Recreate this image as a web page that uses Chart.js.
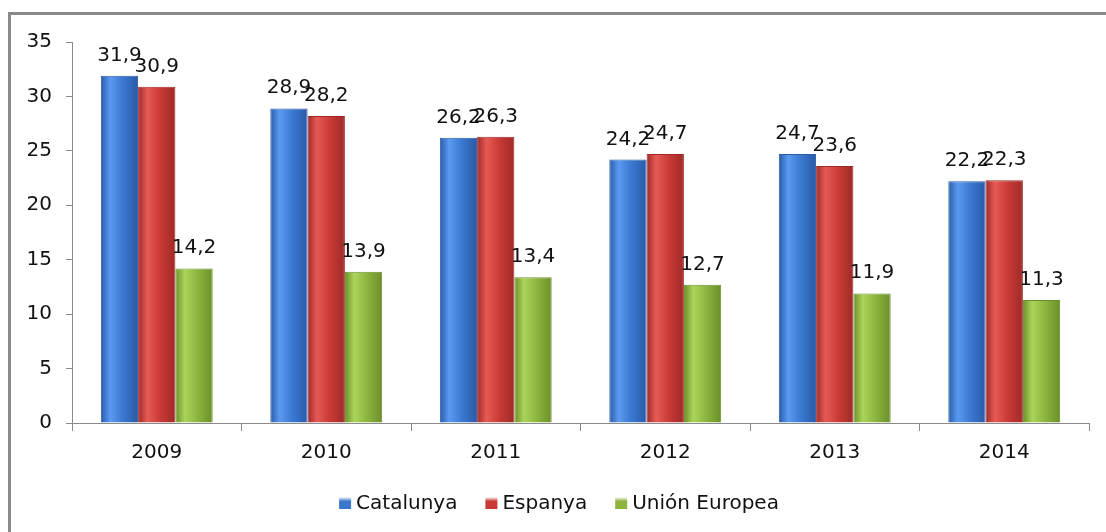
<!DOCTYPE html>
<html>
<head>
<meta charset="utf-8">
<script src="https://cdn.jsdelivr.net/npm/chart.js@4"></script>
<style>
  html, body { margin: 0; padding: 0; background: #fff; overflow: hidden; }
  #wrap { position: relative; width: 1106px; height: 532px; overflow: hidden; }
  #frame { position: absolute; left: 8px; top: 12px; width: 1200px; height: 600px;
           border-left: 3px solid #8a8a8a; border-top: 3px solid #8a8a8a; }
  canvas { position: absolute; left: 0; top: 0; }
</style>
</head>
<body>
<div id="wrap">
  <div id="frame"></div>
  <canvas id="chart" width="1106" height="532"></canvas>
</div>
<script>
// Years and values
const years = ['2009', '2010', '2011', '2012', '2013', '2014'];
const catalunya = [31.9, 28.9, 26.2, 24.2, 24.7, 22.2];
const espanya = [30.9, 28.2, 26.3, 24.7, 23.6, 22.3];
const unionEuropea = [14.2, 13.9, 13.4, 12.7, 11.9, 11.3];
const yTicks = [0, 5, 10, 15, 20, 25, 30, 35];

const CAT_PCT = 0.66;
const FONT = 'Verdana, "DejaVu Sans", sans-serif';
const legendColors = ['#3a78d0', '#c93a36', '#8db43e'];

// horizontal shading so bars look a bit rounded
function barFill(dark, mid, light) {
    return function (c) {
        const chart = c.chart;
        const xs = chart.scales.x;
        if (!xs || !chart.chartArea) return mid;
        const catW = xs.width / years.length;
        const barW = catW * CAT_PCT / 3;
        const cx = xs.getPixelForValue(c.dataIndex) + (c.datasetIndex - 1) * barW;
        const g = chart.ctx.createLinearGradient(cx - barW / 2, 0, cx + barW / 2, 0);
        g.addColorStop(0, dark);
        g.addColorStop(0.25, light);
        g.addColorStop(0.6, mid);
        g.addColorStop(1, dark);
        return g;
    };
}

// value labels over each bar, comma decimal
const valueLabels = {
    id: 'valueLabels',
    afterDatasetsDraw(chart) {
        const ctx = chart.ctx;
        ctx.save();
        ctx.font = '20px ' + FONT;
        ctx.fillStyle = '#111';
        ctx.textAlign = 'center';
        ctx.textBaseline = 'alphabetic';
        chart.data.datasets.forEach((ds, i) => {
            chart.getDatasetMeta(i).data.forEach((bar, j) => {
                const txt = ds.data[j].toFixed(1).replace('.', ',');
                ctx.fillText(txt, bar.x, bar.y - 15);
            });
        });
        ctx.restore();
    }
};

// legend drawn by hand: the built-in one can't space items this wide
const bottomLegend = {
    id: 'bottomLegend',
    afterDraw(chart) {
        const ctx = chart.ctx;
        ctx.save();
        ctx.font = '20px ' + FONT;
        ctx.textBaseline = 'middle';
        const box = 12, gap = 5, spacing = 28;
        const names = chart.data.datasets.map(d => d.label);
        const widths = names.map(n => box + gap + ctx.measureText(n).width);
        const total = widths.reduce((a, b) => a + b, 0) + spacing * (names.length - 1);
        let x = chart.width / 2 + 6 - total / 2;
        const y = 503;
        names.forEach((n, i) => {
            const g = ctx.createLinearGradient(x, y - box / 2, x, y + box / 2);
            g.addColorStop(0, '#ffffff');
            g.addColorStop(0.35, legendColors[i]);
            g.addColorStop(1, legendColors[i]);
            ctx.fillStyle = g;
            ctx.fillRect(x, y - box / 2, box, box);
            ctx.fillStyle = '#111';
            ctx.fillText(n, x + box + gap, y + 1);
            x += widths[i] + spacing;
        });
        ctx.restore();
    }
};

const ctx = document.getElementById('chart').getContext('2d');
new Chart(ctx, {
    type: 'bar',
    data: {
        labels: years,
        datasets: [{
            label: 'Catalunya',
            data: catalunya,
            backgroundColor: barFill('#2a5aa8', '#3a78d0', '#5a9af0'),
            borderColor: '#2a5aa8',
            borderWidth: 1
        }, {
            label: 'Espanya',
            data: espanya,
            backgroundColor: barFill('#9e2a27', '#c93a36', '#e65a55'),
            borderColor: '#9e2a27',
            borderWidth: 1
        }, {
            label: 'Unión Europea',
            data: unionEuropea,
            backgroundColor: barFill('#6a8f2a', '#8db43e', '#acd35a'),
            borderColor: '#6a8f2a',
            borderWidth: 1
        }]
    },
    options: {
        responsive: false,
        animation: false,
        layout: { padding: { top: 42, left: 0, right: 17, bottom: 49 } },
        datasets: {
            bar: { categoryPercentage: CAT_PCT, barPercentage: 1 }
        },
        plugins: {
            legend: { display: false },
            tooltip: { enabled: false }
        },
        scales: {
            x: {
                grid: { drawOnChartArea: false, drawTicks: true, tickLength: 8, color: '#8a8a8a', offset: true },
                border: { display: true, color: '#8a8a8a' },
                ticks: { font: { family: FONT, size: 20 }, color: '#111', padding: 10 },
                afterFit(scale) { scale.height = 60; }
            },
            y: {
                min: 0,
                max: 35,
                afterBuildTicks(scale) { scale.ticks = yTicks.map(v => ({ value: v })); },
                grid: { drawOnChartArea: false, drawTicks: true, tickLength: 6, color: '#8a8a8a' },
                border: { display: true, color: '#8a8a8a' },
                ticks: { font: { family: FONT, size: 20 }, color: '#111', padding: 14 },
                afterFit(scale) { scale.width = 72; }
            }
        }
    },
    plugins: [valueLabels, bottomLegend]
});
</script>
</body>
</html>
